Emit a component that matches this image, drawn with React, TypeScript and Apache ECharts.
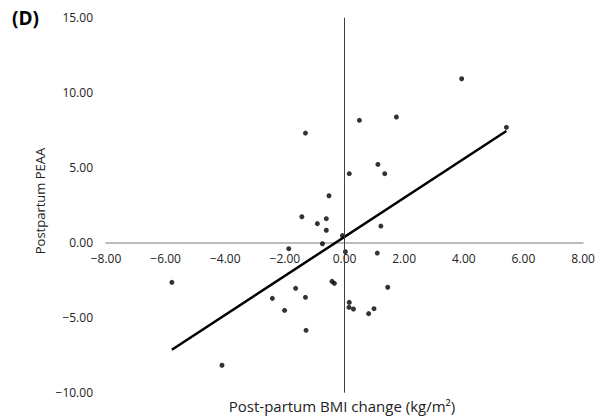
import React, { useEffect, useRef } from "react";
import * as echarts from "echarts";

const bmiChange = [
  -1.31, 0.5, 1.74, 1.12, 1.35, 0.16, -0.52, -1.43, -0.91, -0.61, -0.61, -0.07, -0.74, 1.22,
  -1.87, 0.03, 1.1, 3.93, 5.43, -5.79, -4.11, -2.42, -2.01, -1.64, -1.31, -1.29, -0.42, -0.34,
  0.16, 0.15, 0.3, 0.81, 0.99, 1.45,
];
const peaa = [
  7.31, 8.16, 8.38, 5.22, 4.6, 4.6, 3.13, 1.73, 1.27, 1.6, 0.83, 0.47, -0.07, 1.11,
  -0.4, -0.6, -0.69, 10.93, 7.69, -2.64, -8.17, -3.71, -4.51, -3.04, -3.64, -5.84, -2.58, -2.71,
  -3.98, -4.31, -4.42, -4.73, -4.4, -2.97,
];
const trendX = [-5.79, 5.43];
const trendY = [-7.14, 7.45];
const xTickValues = [-8, -6, -4, -2, 0, 2, 4, 6, 8];
const yTickValues = [-10, -5, 0, 5, 10, 15];

const fmt = (v: number) => (v < 0 ? "\u2212" + Math.abs(v).toFixed(2) : v.toFixed(2));
const FONT = "'Open Sans', sans-serif";

export default function App() {
  const ref = useRef<HTMLDivElement>(null);
  useEffect(() => {
    if (!ref.current) return;
    const chart = echarts.init(ref.current, undefined, { renderer: "svg" });
    const gridTop = 17.7;
    const gridBottom = 27.3;
    const plotH = 420 - gridTop - gridBottom;
    const yMin = yTickValues[0];
    const yMax = yTickValues[yTickValues.length - 1];
    // offset that moves the bottom x axis up to the y = 0 line
    const zeroOffset = -plotH * (0 - yMin) / (yMax - yMin);
    chart.setOption({
      animation: false,
      backgroundColor: "#ffffff",
      grid: { left: 106, right: 22, top: gridTop, bottom: gridBottom, containLabel: false },
      xAxis: {
        type: "value",
        position: "bottom",
        offset: zeroOffset,
        min: xTickValues[0],
        max: xTickValues[xTickValues.length - 1],
        interval: 2,
        axisLine: { show: true, onZero: false, lineStyle: { color: "#a6a6a6", width: 1.5 } },
        axisTick: { show: false },
        splitLine: { show: false },
        axisLabel: {
          formatter: fmt,
          color: "#222",
          fontFamily: FONT,
          fontSize: 12,
          margin: 10,
          showMinLabel: true,
          showMaxLabel: true,
        },
      },
      yAxis: {
        type: "value",
        min: yMin,
        max: yMax,
        interval: 5,
        axisLine: { show: false, onZero: false },
        axisTick: { show: false },
        splitLine: { show: false },
        axisLabel: {
          formatter: fmt,
          color: "#222",
          fontFamily: FONT,
          fontSize: 12,
          margin: 13,
        },
      },
      series: [
        {
          type: "scatter",
          data: bmiChange.map((x, i) => [x, peaa[i]]),
          symbol: "circle",
          symbolSize: 5,
          itemStyle: { color: "#000" },
          z: 3,
          markLine: {
            silent: true,
            symbol: "none",
            label: { show: false },
            lineStyle: { color: "#404040", width: 1, type: "solid" },
            data: [[{ coord: [0, yMin] }, { coord: [0, yMax] }]],
          },
        },
        {
          type: "line",
          data: trendX.map((x, i) => [x, trendY[i]]),
          showSymbol: false,
          symbol: "none",
          lineStyle: { color: "#000", width: 2.5 },
          z: 4,
        },
      ],
      graphic: [
        {
          type: "text",
          left: 12,
          top: 8,
          style: { text: "(D)", font: "bold 19px 'Open Sans', sans-serif", fill: "#000" },
        },
        {
          type: "text",
          x: 40,
          y: 201,
          rotation: Math.PI / 2,
          style: {
            text: "Postpartum PEAA",
            font: "13px 'Open Sans', sans-serif",
            fill: "#222",
            align: "center",
            verticalAlign: "middle",
          },
        },
        {
          type: "text",
          x: 342,
          y: 406,
          style: {
            text: "Post-partum BMI change (kg/m\u00b2)",
            font: "15px 'Open Sans', sans-serif",
            fill: "#222",
            align: "center",
            verticalAlign: "middle",
          },
        },
      ],
    });
    return () => chart.dispose();
  }, []);
  return <div ref={ref} style={{ position: "fixed", left: 0, top: 0, width: 605, height: 420 }} />;
}
